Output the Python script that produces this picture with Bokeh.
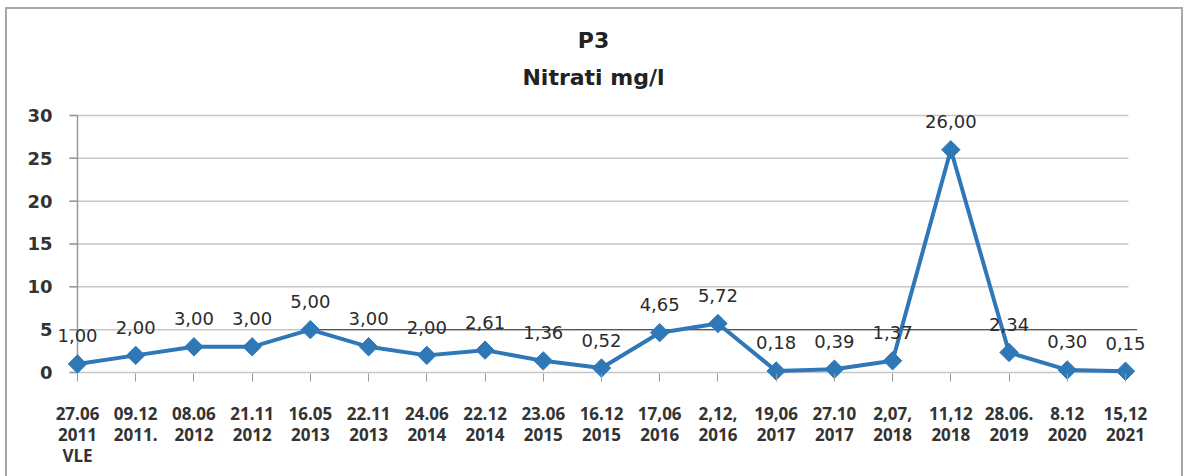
import numpy as np
from bokeh.plotting import figure
from bokeh.models import ColumnDataSource, LabelSet, FixedTicker, Range1d, Title
from bokeh.core.properties import value
from bokeh.embed import file_html
from bokeh.resources import INLINE

# ---- data ----
dates = ["27.06\n2011\nVLE", "09.12\n2011.", "08.06\n2012", "21.11\n2012", "16.05\n2013",
         "22.11\n2013", "24.06\n2014", "22.12\n2014", "23.06\n2015", "16.12\n2015",
         "17,06\n2016", "2,12,\n2016", "19,06\n2017", "27.10\n2017", "2,07,\n2018",
         "11,12\n2018", "28.06.\n2019", "8.12\n2020", "15,12\n2021"]
nitrati = [1.00, 2.00, 3.00, 3.00, 5.00, 3.00, 2.00, 2.61, 1.36, 0.52,
           4.65, 5.72, 0.18, 0.39, 1.37, 26.00, 2.34, 0.30, 0.15]
y_ticks = [0, 5, 10, 15, 20, 25, 30]
vle_limit = 5.0

x = list(range(len(dates)))
labels = [f"{v:.2f}".replace(".", ",") for v in nitrati]
src = ColumnDataSource(dict(x=x, y=nitrati, lbl=labels))

BLUE = "#2f78b8"
AXIS = "#9a9a9a"
GRID = "#c6c6c6"

W, H = 1186, 476
X0, X1 = -1.3225, 19.048          # full-width frame so edge labels are not clipped
unit_px = W / (X1 - X0)
tick_len = 8 / unit_px             # 8 px tick marks, in data units

p = figure(width=W, height=H, output_backend="svg", toolbar_location=None,
           x_range=Range1d(X0, X1), y_range=Range1d(-1.05, 31.75),
           min_border_left=0, min_border_right=0, min_border_top=100, min_border_bottom=95)
p.outline_line_color = None
p.background_fill_color = None
p.border_fill_color = None
# chart-area frame (left, top, right edges) painted behind the transparent canvas
line = "linear-gradient(#a8a8a8, #a8a8a8)"
p.styles = {
    "background-color": "white",
    "background-image": f"{line}, {line}, {line}",
    "background-position": "5px 7px, 5px 7px, 1181px 7px",
    "background-size": "2px 100%, 1178px 2px, 2px 100%",
    "background-repeat": "no-repeat",
}

p.add_layout(Title(text="Nitrati mg/l", align="center", text_font="DejaVu Sans",
                   text_font_size="22px", text_font_style="bold", text_color="#222222",
                   standoff=21), "above")
p.add_layout(Title(text="P3", align="center", text_font="DejaVu Sans",
                   text_font_size="22px", text_font_style="bold", text_color="#222222",
                   standoff=0), "above")

# x axis (category ticks + labels)
p.xaxis.ticker = FixedTicker(ticks=x)
p.xaxis.major_label_overrides = {i: d for i, d in zip(x, dates)}
p.xaxis.axis_line_color = None
p.xaxis.major_tick_in = 8
p.xaxis.major_tick_out = 0
p.xaxis.major_tick_line_color = AXIS
p.xaxis.minor_tick_line_color = None
p.xaxis.major_label_text_font = "Open Sans"
p.xaxis.major_label_text_font_style = "bold"
p.xaxis.major_label_text_font_size = "17px"
p.xaxis.major_label_text_color = "#333333"
p.xaxis.major_label_text_line_height = 0.93
p.xaxis.major_label_standoff = 20

# y axis drawn through the first category
p.yaxis.visible = False
p.xgrid.grid_line_color = None
p.ygrid.grid_line_color = None

n = len(y_ticks)
p.segment(x0=[x[0] - tick_len] * n, y0=y_ticks, x1=[x[-1] + 0.05] * n, y1=y_ticks,
          line_color=GRID, line_width=1.5)
p.segment(x0=[x[0] - tick_len] * n, y0=y_ticks, x1=[x[0]] * n, y1=y_ticks,
          line_color=AXIS, line_width=1.5)
p.segment(x0=[x[0]], y0=[y_ticks[0]], x1=[x[0]], y1=[y_ticks[-1]],
          line_color=AXIS, line_width=1.5)
p.text(x=[x[0]] * n, y=y_ticks, text=[str(t) for t in y_ticks], x_offset=-25,
       text_align="right", text_baseline="middle", text_font=value("DejaVu Sans"),
       text_font_style="bold", text_font_size="18px", text_color="#333333")

# VLE limit line
p.line([x[4], x[-1] + 0.2], [vle_limit, vle_limit], line_color="#555555", line_width=1.3)

# series
p.line("x", "y", source=src, line_color=BLUE, line_width=4)
p.scatter("x", "y", source=src, marker="square", angle=np.pi / 4, size=13,
          fill_color=BLUE, line_color=BLUE)

p.add_layout(LabelSet(x="x", y="y", text="lbl", source=src, y_offset=28,
                      text_align="center", text_baseline="middle",
                      text_font=value("DejaVu Sans"), text_font_size="18px",
                      text_color="#2b2b2b"))

open("out.html", "w").write(file_html(p, INLINE))
